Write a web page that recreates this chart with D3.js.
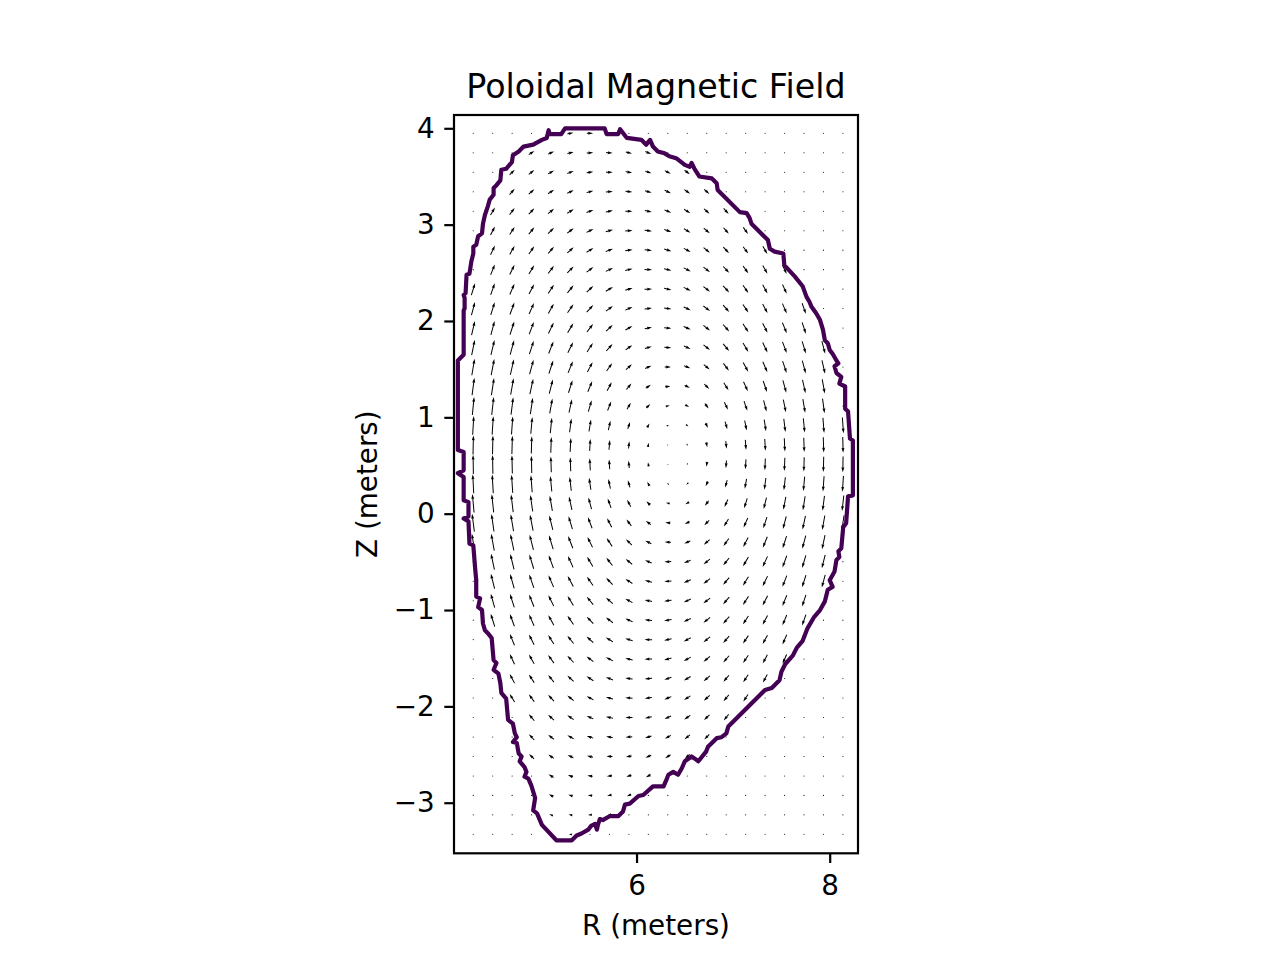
<!DOCTYPE html>
<html>
<head>
<meta charset="utf-8">
<script src="https://cdn.jsdelivr.net/npm/d3@7"></script>
<style>
  body { margin: 0; background: #fff; }
  svg { display: block; }
</style>
</head>
<body>
<div id="chart"></div>
<script>
// grid of the quiver (R across, Z down the rows, top row first)
const rGrid = [4.309, 4.511, 4.712, 4.913, 5.115, 5.316, 5.518, 5.719, 5.921, 6.122,
  6.324, 6.525, 6.727, 6.928, 7.130, 7.331, 7.533, 7.734, 7.936, 8.137];
const zGrid = [3.948, 3.746, 3.544, 3.342, 3.139, 2.937, 2.735, 2.533, 2.331, 2.129,
  1.927, 1.725, 1.522, 1.320, 1.118, 0.916, 0.714, 0.512, 0.310, 0.108,
  -0.094, -0.296, -0.498, -0.701, -0.903, -1.105, -1.307, -1.509, -1.711, -1.913,
  -2.115, -2.318, -2.520, -2.722, -2.924, -3.126, -3.328];

// B_R (0 outside the plasma)
const bR = [
  [0,0,0,0,0,6.1,6.2,0,0,0,0,0,0,0,0,0,0,0,0,0],
  [0,0,0,5.6,6.0,6.3,6.5,6.5,6.3,5.9,0,0,0,0,0,0,0,0,0,0],
  [0,0,5.1,5.6,6.0,6.4,6.6,6.7,6.6,6.3,5.9,5.3,0,0,0,0,0,0,0,0],
  [0,0,5.1,5.6,6.1,6.5,6.8,6.9,6.9,6.7,6.3,5.8,5.2,0,0,0,0,0,0,0],
  [0,4.5,5.0,5.5,6.0,6.5,6.9,7.1,7.2,7.0,6.7,6.2,5.6,5.0,0,0,0,0,0,0],
  [0,4.4,4.9,5.5,6.0,6.5,6.9,7.2,7.3,7.3,7.0,6.5,6.0,5.3,4.7,0,0,0,0,0],
  [0,4.4,4.8,5.4,5.9,6.4,6.9,7.2,7.4,7.4,7.2,6.8,6.3,5.7,5.0,4.5,0,0,0,0],
  [0,4.2,4.7,5.2,5.8,6.3,6.8,7.2,7.4,7.5,7.4,7.0,6.5,5.9,5.3,4.7,4.1,0,0,0],
  [3.7,4.1,4.6,5.1,5.6,6.1,6.6,7.1,7.3,7.5,7.4,7.1,6.6,6.1,5.4,4.8,4.2,0,0,0],
  [3.5,3.9,4.4,4.9,5.4,5.9,6.5,6.9,7.2,7.4,7.4,7.1,6.7,6.1,5.5,4.9,4.3,3.8,0,0],
  [3.3,3.7,4.2,4.6,5.2,5.7,6.2,6.6,7.0,7.2,7.2,7.0,6.6,6.1,5.5,4.9,4.3,3.8,0,0],
  [3.1,3.5,3.9,4.3,4.8,5.3,5.8,6.2,6.6,6.8,6.9,6.7,6.4,5.9,5.3,4.8,4.2,3.7,3.3,0],
  [2.8,3.1,3.5,3.9,4.3,4.8,5.2,5.6,6.0,6.2,6.3,6.2,5.9,5.5,5.0,4.5,4.0,3.5,3.1,0],
  [2.3,2.6,2.9,3.3,3.6,4.0,4.4,4.7,5.0,5.2,5.3,5.3,5.0,4.7,4.3,3.8,3.4,3.0,2.6,0],
  [1.8,2.0,2.2,2.4,2.7,3.0,3.3,3.6,3.8,4.0,4.0,4.0,3.8,3.6,3.3,2.9,2.6,2.3,2.0,0],
  [1.1,1.2,1.3,1.5,1.6,1.8,2.0,2.1,2.3,2.4,2.4,2.4,2.3,2.2,2.0,1.8,1.6,1.4,1.2,1.1],
  [0.4,0.4,0.5,0.5,0.6,0.7,0.7,0.8,0.8,0.9,0.9,0.9,0.9,0.8,0.7,0.7,0.6,0.5,0.5,0.4],
  [-0.3,-0.3,-0.4,-0.4,-0.5,-0.5,-0.6,-0.6,-0.7,-0.7,-0.7,-0.7,-0.7,-0.6,-0.6,-0.5,-0.5,-0.4,-0.4,-0.3],
  [-1.0,-1.1,-1.2,-1.3,-1.5,-1.6,-1.8,-2.0,-2.1,-2.2,-2.2,-2.2,-2.1,-2.0,-1.8,-1.6,-1.5,-1.3,-1.1,-1.0],
  [-1.7,-1.9,-2.1,-2.3,-2.6,-2.9,-3.1,-3.4,-3.6,-3.8,-3.8,-3.8,-3.7,-3.4,-3.1,-2.8,-2.5,-2.2,-1.9,-1.7],
  [-2.3,-2.5,-2.8,-3.1,-3.5,-3.9,-4.2,-4.6,-4.9,-5.1,-5.2,-5.1,-4.9,-4.6,-4.2,-3.7,-3.3,-2.9,-2.6,-2.3],
  [-2.7,-3.1,-3.4,-3.8,-4.2,-4.7,-5.1,-5.5,-5.9,-6.1,-6.2,-6.1,-5.8,-5.4,-4.9,-4.4,-3.9,-3.5,-3.0,0],
  [0,-3.4,-3.8,-4.3,-4.7,-5.2,-5.7,-6.1,-6.5,-6.7,-6.8,-6.7,-6.4,-5.9,-5.4,-4.8,-4.2,-3.7,-3.3,0],
  [0,-3.7,-4.1,-4.6,-5.1,-5.6,-6.1,-6.5,-6.9,-7.1,-7.2,-7.0,-6.6,-6.1,-5.5,-4.9,-4.4,-3.9,-3.4,0],
  [0,-3.9,-4.3,-4.8,-5.3,-5.8,-6.4,-6.8,-7.1,-7.3,-7.4,-7.2,-6.8,-6.2,-5.6,-5.0,-4.4,-3.9,0,0],
  [0,-4.0,-4.5,-5.0,-5.5,-6.0,-6.5,-7.0,-7.3,-7.4,-7.4,-7.2,-6.7,-6.2,-5.5,-4.9,-4.3,-3.8,0,0],
  [0,0,-4.6,-5.1,-5.7,-6.2,-6.7,-7.1,-7.4,-7.5,-7.4,-7.1,-6.6,-6.0,-5.4,-4.8,-4.2,0,0,0],
  [0,0,-4.7,-5.2,-5.8,-6.3,-6.8,-7.2,-7.4,-7.5,-7.3,-7.0,-6.5,-5.8,-5.2,-4.6,-4.1,0,0,0],
  [0,0,-4.8,-5.3,-5.8,-6.3,-6.8,-7.1,-7.3,-7.3,-7.1,-6.7,-6.2,-5.6,-5.0,-4.4,0,0,0,0],
  [0,0,-4.9,-5.4,-5.9,-6.4,-6.8,-7.1,-7.2,-7.1,-6.9,-6.4,-5.9,-5.3,-4.7,0,0,0,0,0],
  [0,0,0,-5.4,-5.9,-6.4,-6.7,-7.0,-7.1,-6.9,-6.6,-6.1,-5.5,-4.9,0,0,0,0,0,0],
  [0,0,0,-5.3,-5.8,-6.2,-6.5,-6.6,-6.6,-6.4,-6.0,-5.5,-5.0,0,0,0,0,0,0,0],
  [0,0,0,-5.0,-5.4,-5.8,-6.0,-6.1,-6.0,-5.7,-5.3,-4.9,0,0,0,0,0,0,0,0],
  [0,0,0,0,-4.9,-5.1,-5.3,-5.3,-5.2,-4.9,0,0,0,0,0,0,0,0,0,0],
  [0,0,0,0,-4.3,-4.5,-4.6,-4.5,-4.3,0,0,0,0,0,0,0,0,0,0,0],
  [0,0,0,0,-3.7,-3.8,-3.9,-3.8,0,0,0,0,0,0,0,0,0,0,0,0],
  [0,0,0,0,0,-3.2,0,0,0,0,0,0,0,0,0,0,0,0,0,0]
];

// B_Z (0 outside the plasma)
const bZ = [
  [0,0,0,0,0,1.0,0,0,0,0,0,0,0,0,0,0,0,0,0,0],
  [0,0,0,3.6,2.7,1.7,0.6,-0.5,-1.5,-2.5,0,0,0,0,0,0,0,0,0,0],
  [0,0,5.1,4.3,3.4,2.4,1.2,0,-1.2,-2.2,-3.2,-4.0,0,0,0,0,0,0,0,0],
  [0,0,5.8,5.1,4.1,3.1,1.9,0.6,-0.7,-1.9,-3.0,-4.0,-4.8,0,0,0,0,0,0,0],
  [0,7.4,6.7,5.9,4.9,3.9,2.6,1.3,-0.2,-1.5,-2.8,-4.0,-4.9,-5.6,0,0,0,0,0,0],
  [0,8.4,7.6,6.8,5.8,4.7,3.4,1.9,0.4,-1.1,-2.6,-3.9,-5.0,-5.9,-6.6,0,0,0,0,0],
  [0,9.3,8.6,7.7,6.7,5.6,4.2,2.7,1.0,-0.6,-2.3,-3.7,-5.1,-6.1,-6.9,-7.6,0,0,0,0],
  [0,10.4,9.7,8.7,7.7,6.5,5.1,3.5,1.7,-0.1,-1.9,-3.6,-5.1,-6.3,-7.3,-8.1,-8.7,0,0,0],
  [11.9,11.5,10.8,9.9,8.8,7.5,6.1,4.3,2.4,0.4,-1.6,-3.4,-5.1,-6.6,-7.6,-8.6,-9.3,0,0,0],
  [13.0,12.6,11.9,11.0,9.8,8.5,7.0,5.2,3.2,1.0,-1.1,-3.2,-5.1,-6.8,-8.0,-9.1,-9.9,-10.6,0,0],
  [14.2,13.8,13.1,12.1,10.9,9.5,7.9,6.1,3.9,1.6,-0.7,-3.0,-5.1,-7.0,-8.4,-9.6,-10.6,-11.3,0,0],
  [15.3,15.0,14.3,13.3,12.0,10.6,8.9,7.0,4.7,2.2,-0.3,-2.8,-5.0,-7.2,-8.8,-10.1,-11.2,-12.0,-12.7,0],
  [16.4,16.1,15.4,14.4,13.1,11.6,9.8,7.8,5.4,2.8,0.1,-2.6,-5.0,-7.3,-9.2,-10.6,-11.8,-12.7,-13.4,0],
  [17.3,17.1,16.4,15.4,14.0,12.5,10.6,8.6,6.1,3.3,0.5,-2.3,-5.0,-7.4,-9.5,-11.0,-12.3,-13.3,-14.1,0],
  [18.1,17.9,17.3,16.2,14.8,13.2,11.3,9.1,6.6,3.8,0.8,-2.2,-4.9,-7.5,-9.7,-11.3,-12.7,-13.8,-14.7,0],
  [18.7,18.4,17.9,16.8,15.4,13.7,11.8,9.6,7.0,4.1,1.0,-2.0,-4.9,-7.6,-9.9,-11.6,-13.0,-14.2,-15.1,-15.7],
  [19.0,18.8,18.2,17.1,15.7,14.0,12.0,9.8,7.2,4.2,1.2,-2.0,-4.9,-7.6,-10.0,-11.7,-13.2,-14.4,-15.3,-15.9],
  [19.1,18.8,18.2,17.1,15.7,14.0,12.0,9.8,7.2,4.2,1.2,-2.0,-4.9,-7.6,-10.0,-11.8,-13.2,-14.4,-15.3,-15.9],
  [18.9,18.6,18.1,16.9,15.5,13.8,11.9,9.6,7.0,4.1,1.1,-2.0,-4.9,-7.6,-9.9,-11.7,-13.1,-14.3,-15.2,-15.8],
  [18.4,18.2,17.6,16.5,15.1,13.4,11.5,9.3,6.8,3.9,0.9,-2.1,-4.9,-7.6,-9.8,-11.5,-12.9,-14.1,-14.9,-15.5],
  [17.8,17.6,16.9,15.9,14.5,12.9,11.0,8.9,6.3,3.6,0.6,-2.3,-5.0,-7.5,-9.6,-11.2,-12.6,-13.7,-14.5,-15.0],
  [17.1,16.8,16.2,15.1,13.7,12.2,10.3,8.3,5.8,3.1,0.3,-2.5,-5.1,-7.5,-9.5,-10.9,-12.2,-13.2,-14.0,0],
  [0,15.9,15.3,14.2,12.9,11.4,9.6,7.6,5.2,2.6,-0.1,-2.7,-5.1,-7.4,-9.2,-10.6,-11.8,-12.7,-13.4,0],
  [0,15.0,14.2,13.2,11.9,10.5,8.7,6.8,4.5,2.1,-0.5,-3.0,-5.2,-7.3,-8.9,-10.2,-11.3,-12.1,-12.7,0],
  [0,14.0,13.2,12.2,10.9,9.5,7.9,6.0,3.8,1.5,-0.9,-3.2,-5.3,-7.2,-8.6,-9.8,-10.8,-11.5,0,0],
  [0,12.9,12.2,11.2,10.0,8.6,7.0,5.2,3.1,0.9,-1.3,-3.4,-5.4,-7.0,-8.3,-9.4,-10.2,-10.9,0,0],
  [0,0,11.2,10.2,9.0,7.7,6.2,4.4,2.4,0.3,-1.7,-3.6,-5.4,-6.9,-8.0,-8.9,-9.7,0,0,0],
  [0,0,10.2,9.2,8.1,6.8,5.3,3.6,1.7,-0.2,-2.1,-3.8,-5.5,-6.7,-7.7,-8.6,-9.2,0,0,0],
  [0,0,9.2,8.2,7.1,5.9,4.5,2.8,1.1,-0.7,-2.4,-4.0,-5.4,-6.5,-7.4,-8.1,0,0,0,0],
  [0,0,8.2,7.3,6.3,5.1,3.7,2.1,0.4,-1.2,-2.8,-4.2,-5.4,-6.3,-7.1,0,0,0,0,0],
  [0,0,0,6.5,5.4,4.3,2.9,1.4,-0.1,-1.6,-3.0,-4.3,-5.3,-6.1,0,0,0,0,0,0],
  [0,0,0,5.6,4.6,3.5,2.2,0.8,-0.7,-2.0,-3.3,-4.4,-5.2,0,0,0,0,0,0,0],
  [0,0,0,4.9,3.9,2.7,1.5,0.2,-1.2,-2.4,-3.5,-4.4,0,0,0,0,0,0,0,0],
  [0,0,0,0,3.2,2.0,0.9,-0.4,-1.6,-2.6,0,0,0,0,0,0,0,0,0,0],
  [0,0,0,0,2.5,1.4,0.3,-0.9,-1.9,0,0,0,0,0,0,0,0,0,0,0],
  [0,0,0,0,1.8,0.8,-0.3,-1.3,0,0,0,0,0,0,0,0,0,0,0,0],
  [0,0,0,0,0,0.2,0,0,0,0,0,0,0,0,0,0,0,0,0,0]
];

// last closed flux surface, [R, Z] in metres
const boundary = [
  [5.26,4.00],[5.67,4.00],[5.69,3.94],[5.81,3.94],[5.83,3.99],[5.90,3.90],[6.05,3.88],[6.10,3.83],
  [6.14,3.88],[6.17,3.81],[6.22,3.76],[6.29,3.74],[6.34,3.71],[6.41,3.69],[6.50,3.62],[6.55,3.60],
  [6.57,3.64],[6.60,3.58],[6.65,3.50],[6.78,3.48],[6.83,3.43],[6.84,3.36],[7.07,3.13],[7.14,3.12],
  [7.17,3.07],[7.19,3.01],[7.36,2.84],[7.38,2.75],[7.43,2.72],[7.52,2.70],[7.53,2.58],[7.64,2.46],
  [7.72,2.36],[7.76,2.25],[7.79,2.20],[7.81,2.15],[7.86,2.08],[7.90,2.01],[7.93,1.91],[7.95,1.80],
  [7.98,1.77],[8.00,1.70],[8.03,1.66],[8.07,1.59],[8.09,1.56],[8.05,1.53],[8.07,1.46],[8.12,1.42],
  [8.10,1.35],[8.16,1.32],[8.16,1.09],[8.19,1.06],[8.21,0.78],[8.24,0.76],[8.24,0.19],[8.19,0.18],
  [8.17,-0.10],[8.14,-0.14],[8.12,-0.36],[8.09,-0.39],[8.10,-0.45],[8.07,-0.48],[8.05,-0.60],[8.00,-0.69],
  [8.03,-0.76],[7.98,-0.79],[7.95,-0.91],[7.90,-1.00],[7.84,-1.07],[7.77,-1.19],[7.72,-1.32],[7.66,-1.39],
  [7.62,-1.47],[7.54,-1.56],[7.50,-1.64],[7.48,-1.73],[7.40,-1.81],[7.33,-1.83],[7.14,-2.02],[6.95,-2.21],
  [6.93,-2.28],[6.88,-2.32],[6.83,-2.33],[6.74,-2.42],[6.72,-2.47],[6.64,-2.57],[6.60,-2.54],[6.57,-2.52],
  [6.50,-2.57],[6.47,-2.64],[6.43,-2.71],[6.38,-2.68],[6.33,-2.71],[6.31,-2.76],[6.28,-2.83],[6.17,-2.83],
  [6.07,-2.92],[6.02,-2.93],[5.93,-3.01],[5.88,-3.02],[5.86,-3.09],[5.81,-3.14],[5.72,-3.14],[5.65,-3.18],
  [5.62,-3.17],[5.60,-3.23],[5.59,-3.28],[5.57,-3.22],[5.53,-3.24],[5.50,-3.28],[5.43,-3.32],[5.38,-3.34],
  [5.33,-3.39],[5.17,-3.39],[5.02,-3.23],[4.97,-3.11],[4.93,-3.08],[4.95,-2.95],[4.91,-2.82],[4.88,-2.75],
  [4.84,-2.73],[4.86,-2.68],[4.84,-2.63],[4.79,-2.57],[4.81,-2.52],[4.78,-2.49],[4.76,-2.38],[4.72,-2.37],
  [4.76,-2.32],[4.74,-2.28],[4.72,-2.18],[4.67,-2.14],[4.65,-1.92],[4.60,-1.86],[4.59,-1.76],[4.57,-1.66],
  [4.52,-1.62],[4.55,-1.55],[4.52,-1.52],[4.50,-1.29],[4.46,-1.24],[4.43,-1.21],[4.41,-1.14],[4.40,-1.00],
  [4.36,-0.97],[4.38,-0.88],[4.34,-0.86],[4.34,-0.69],[4.33,-0.58],[4.31,-0.33],[4.27,-0.31],[4.26,-0.08],
  [4.21,-0.05],[4.26,-0.03],[4.26,0.12],[4.21,0.14],[4.21,0.38],[4.15,0.42],[4.21,0.45],[4.21,0.64],
  [4.15,0.66],[4.15,1.59],[4.21,1.65],[4.21,2.11],[4.22,2.13],[4.22,2.24],[4.21,2.27],[4.23,2.29],
  [4.24,2.48],[4.27,2.49],[4.29,2.62],[4.31,2.70],[4.31,2.77],[4.34,2.79],[4.36,2.88],[4.40,2.91],
  [4.41,3.01],[4.43,3.10],[4.46,3.19],[4.48,3.26],[4.52,3.31],[4.52,3.38],[4.55,3.41],[4.59,3.46],
  [4.60,3.57],[4.65,3.58],[4.71,3.65],[4.72,3.72],[4.78,3.76],[4.83,3.81],[4.93,3.83],[5.02,3.88],
  [5.07,3.90],[5.09,3.98],[5.10,3.94],[5.22,3.94]
];

const rTicks = [6, 8];
const zTicks = [-3, -2, -1, 0, 1, 2, 3, 4];

const render = (element) => {

  if (!element) {
    return;
  }

  const figWidth = 1280;
  const figHeight = 960;

  const margin = {
    top: 115,
    right: 422,
    bottom: 106.7,
    left: 454
  };

  const width = figWidth - margin.left - margin.right;
  const height = figHeight - margin.top - margin.bottom;
  const fontFamily = '"DejaVu Sans", "Liberation Sans", sans-serif';

  const scale = {
    x: d3.scaleLinear().domain([4.110, 8.293]).range([0, width]),
    y: d3.scaleLinear().domain([-3.525, 4.138]).range([height, 0])
  };

  // field magnitude -> arrow length in px (quiver autoscale)
  const arrowLength = d3.scaleLinear().domain([0, 20]).range([0, 20]);

  const axes = {
    x: d3.axisBottom(scale.x).tickValues(rTicks).tickSize(9.7).tickPadding(12).tickFormat(d3.format('d')),
    y: d3.axisLeft(scale.y).tickValues(zTicks).tickSize(9.7).tickPadding(9.7).tickFormat(d3.format('d'))
  };

  const svg = d3.select(element).append('svg')
    .attr('width', figWidth)
    .attr('height', figHeight);

  svg.append('rect').attr('width', figWidth).attr('height', figHeight).attr('fill', '#fff');

  const plot = svg.append('g').attr('transform', 'translate(' + margin.left + ',' + margin.top + ')');

  // quiver arrows, matplotlib style: shaft width w, head 3w wide and 5w long, pivot in the middle
  const shaft = 1.0;
  const arrowPoints = (len) => {
    const hl = 5 * shaft, hal = 4.5 * shaft, hw = 1.5 * shaft, sw = 0.5 * shaft;
    const L = Math.max(len, hl);
    const k = len / L;
    return [[0, -sw], [L - hal, -sw], [L - hl, -hw], [L, 0], [L - hl, hw], [L - hal, sw], [0, sw]]
      .map(([px, py]) => [((px - L / 2) * k).toFixed(2), (py * k).toFixed(2)]);
  };

  const cells = [];
  zGrid.forEach((z, j) => {
    rGrid.forEach((r, i) => {
      const u = bR[j][i] || 0;
      const v = bZ[j][i] || 0;
      cells.push({ r, z, u, v, len: arrowLength(Math.hypot(u, v)) });
    });
  });

  const quiver = plot.append('g').attr('class', 'quiver');

  quiver.selectAll('.dot')
    .data(cells.filter(d => d.len < 0.9))
    .enter().append('circle')
    .attr('class', 'dot')
    .attr('cx', d => scale.x(d.r))
    .attr('cy', d => scale.y(d.z))
    .attr('r', 0.55)
    .attr('fill', '#000');

  quiver.selectAll('.arrow')
    .data(cells.filter(d => d.len >= 0.9))
    .enter().append('polygon')
    .attr('class', 'arrow')
    .attr('points', d => arrowPoints(d.len).join(' '))
    .attr('transform', d => 'translate(' + scale.x(d.r).toFixed(2) + ',' + scale.y(d.z).toFixed(2) + ') rotate(' +
      (Math.atan2(-d.v, d.u) * 180 / Math.PI).toFixed(1) + ')')
    .attr('fill', '#000');

  // separatrix contour
  const line = d3.line()
    .x(d => scale.x(d[0]))
    .y(d => scale.y(d[1]));

  plot.append('path')
    .attr('class', 'contour')
    .attr('d', line(boundary) + 'Z')
    .attr('fill', 'none')
    .attr('stroke', '#440154')
    .attr('stroke-width', 4.2)
    .attr('stroke-linejoin', 'round');

  const xAxis = plot.append('g').attr('class', 'x axis').attr('transform', 'translate(0,' + height + ')').call(axes.x);
  const yAxis = plot.append('g').attr('class', 'y axis').call(axes.y);

  [xAxis, yAxis].forEach(ax => {
    ax.select('.domain').remove();
    ax.attr('font-size', 27.8).attr('font-family', fontFamily);
    ax.selectAll('line').attr('stroke', '#000').attr('stroke-width', 2.2);
    ax.selectAll('text').attr('fill', '#000');
  });

  plot.append('rect')
    .attr('width', width)
    .attr('height', height)
    .attr('fill', 'none')
    .attr('stroke', '#000')
    .attr('stroke-width', 2.2);

  svg.append('text')
    .attr('x', margin.left + width / 2)
    .attr('y', margin.top - 16.7)
    .attr('text-anchor', 'middle')
    .attr('font-family', fontFamily)
    .attr('font-size', 33.3)
    .text('Poloidal Magnetic Field');

  svg.append('text')
    .attr('x', margin.left + width / 2)
    .attr('y', 935)
    .attr('text-anchor', 'middle')
    .attr('font-family', fontFamily)
    .attr('font-size', 27.8)
    .text('R (meters)');

  svg.append('text')
    .attr('transform', 'translate(377,' + (margin.top + height / 2) + ') rotate(-90)')
    .attr('text-anchor', 'middle')
    .attr('font-family', fontFamily)
    .attr('font-size', 27.8)
    .text('Z (meters)');
};

render(document.getElementById('chart'));
</script>
</body>
</html>
